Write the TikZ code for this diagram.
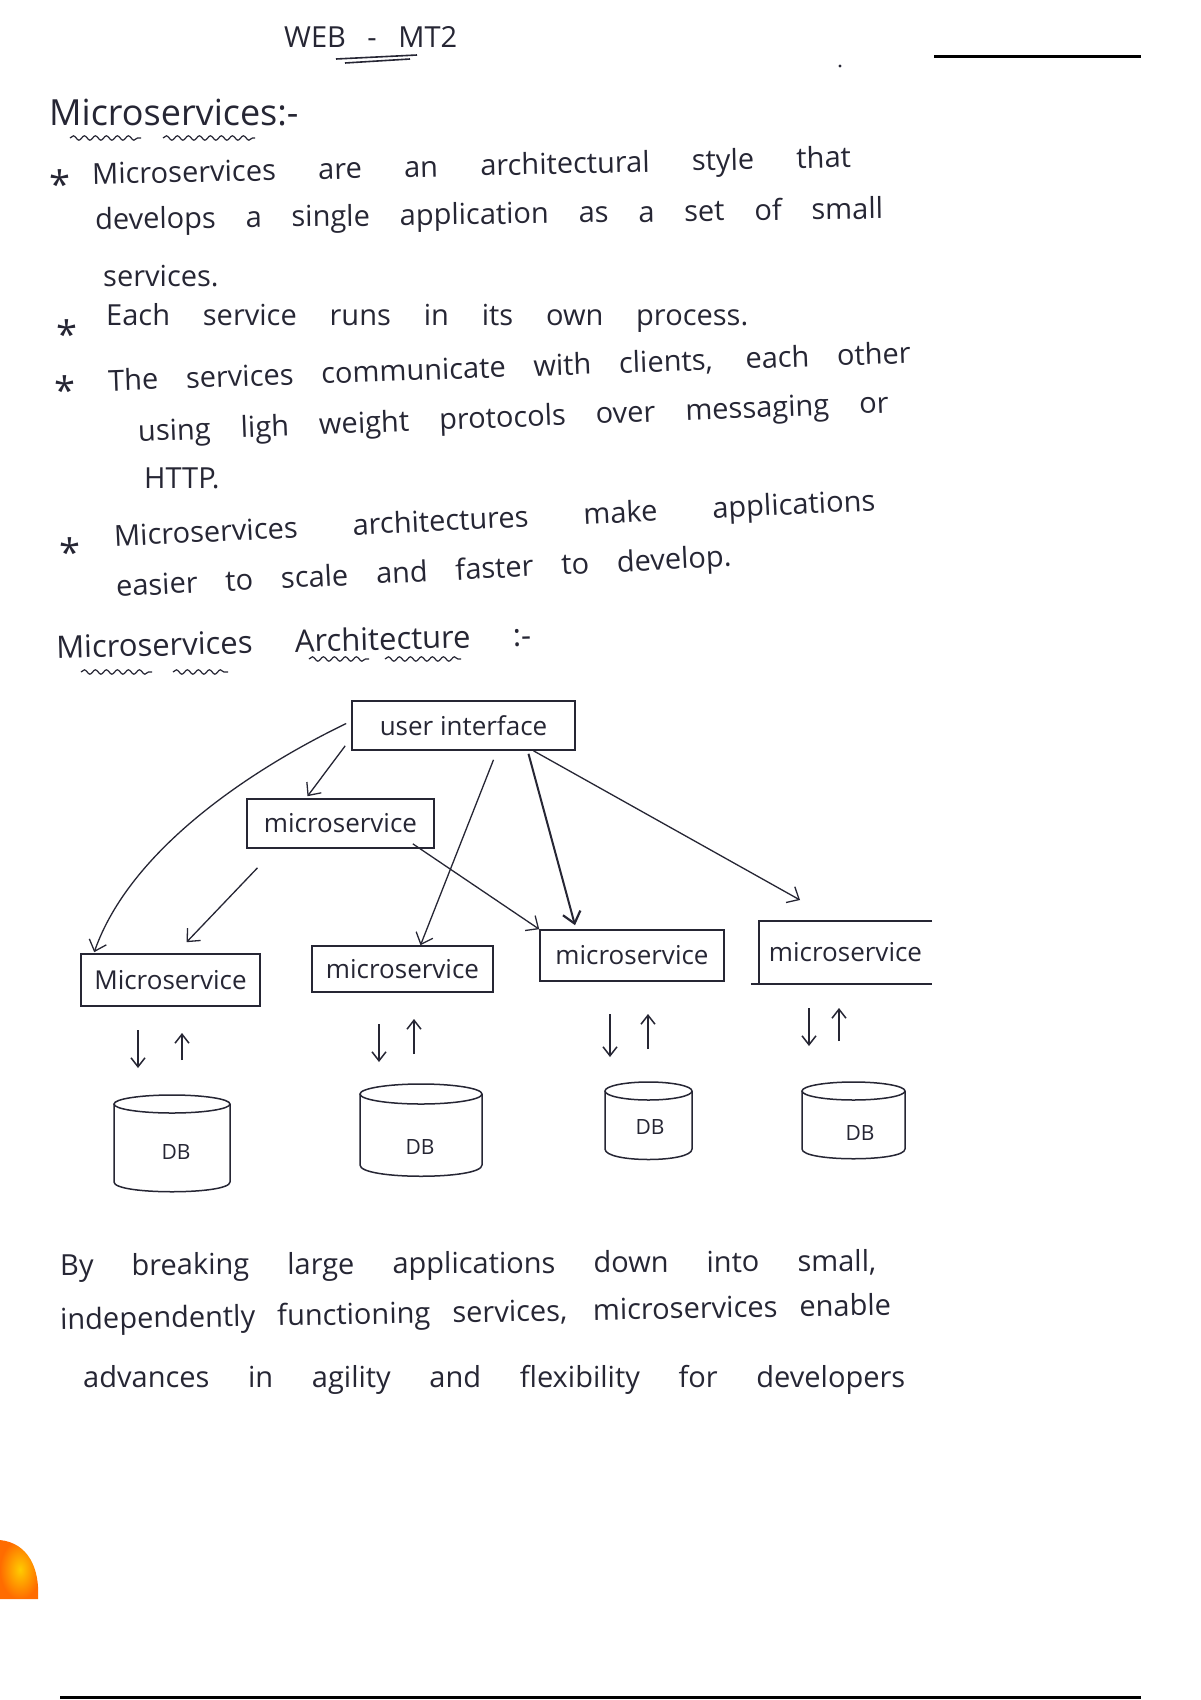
\documentclass[tikz,border=0pt]{standalone}
\usepackage{fontspec}
\setmainfont{Open Sans}
\usetikzlibrary{arrows.meta,decorations.pathmorphing,calc}
\definecolor{ink}{RGB}{38,38,52}
\newcommand{\hwline}[2]{\makebox[#1][s]{#2}}
\begin{document}
\begin{tikzpicture}[x=1pt,y=-1pt,
  txt/.style={anchor=west, inner sep=0pt, text=ink, font=\fontsize{29}{34}\selectfont},
  head/.style={anchor=west, inner sep=0pt, text=ink, font=\fontsize{36}{40}\selectfont},
  star/.style={inner sep=0pt, text=ink, font=\fontsize{38}{40}\selectfont},
  box/.style={draw=ink, line width=1.6pt, rectangle, inner sep=0pt, text=ink, font=\fontsize{26}{30}\selectfont},
  openbox/.style={rectangle, inner sep=0pt, text=ink, font=\fontsize{26}{30}\selectfont},
  boxline/.style={draw=ink, line width=1.6pt},
  conn/.style={draw=ink, line width=1.3pt, -{Straight Barb[length=10pt,width=18pt,line width=1.3pt]}},
  thickconn/.style={draw=ink, line width=2pt, -{Straight Barb[length=11pt,width=18pt,line width=2.2pt]}},
  wavy/.style={draw=ink, line width=1.2pt, decorate, decoration={snake, segment length=11pt, amplitude=2.2pt}},
  dbline/.style={draw=ink, line width=1.5pt},
  dblabel/.style={inner sep=0pt, text=ink, font=\fontsize{21}{25}\selectfont},
  updown/.style={draw=ink, line width=1.5pt, -{Straight Barb[length=9pt,width=14pt,line width=1.5pt]}},
  rule/.style={draw=black, line width=3pt},
]
\fill[white] (0,0) rectangle (1200,1700);
\useasboundingbox (0,0) rectangle (1200,1700);

% title
\node[anchor=west, inner sep=0pt, text=ink, font=\fontsize{29}{33}\selectfont] (title) at (284,37) {\hwline{173pt}{WEB - MT2}};
\draw[draw=ink, line width=1.6pt] (336,59) -- (417,55);
\draw[draw=ink, line width=1.6pt] (345,63) -- (410,59);
\draw[rule] (934,56) -- (1141,56);
\fill[ink] (840,66) circle (1.6pt);

% heading 1
\node[head] (h1) at (49,113) {Microservices:-};
\draw[wavy] (70,138) -- (141,138);
\draw[wavy] (163,138) -- (255,138);

% bullets
\node[star] (s1) at (60,184) {*};
\node[txt, rotate=1.3] (l1) at (92,177) {\hwline{759pt}{Microservices are an architectural style that}};
\node[txt, rotate=0.8] (l2) at (95,222) {\hwline{788pt}{develops a single application as a set of small}};
\node[txt] (l3) at (103,276) {services.};
\node[star] (s2) at (67,334) {*};
\node[txt] (l4) at (106,318) {\hwline{642pt}{Each service runs in its own process.}};
\node[star] (s3) at (65,390) {*};
\node[txt, rotate=2] (l5) at (108,382) {\hwline{803pt}{The services communicate with clients, each other}};
\node[txt, rotate=2.2] (l6) at (138,434) {\hwline{751pt}{using ligh weight protocols over messaging or}};
\node[txt] (l7) at (144,478) {HTTP.};
\node[star] (s4) at (70,552) {*};
\node[txt, rotate=2.7] (l8) at (114,539) {\hwline{762pt}{Microservices architectures make applications}};
\node[txt, rotate=2.8] (l9) at (116,589) {\hwline{616pt}{easier to scale and faster to develop.}};

% heading 2
\node[txt, rotate=1.5, font=\fontsize{31}{36}\selectfont] (h2) at (56,647) {\hwline{475pt}{Microservices Architecture :-}};
\draw[wavy] (81,672) -- (152,672);
\draw[wavy] (173,672) -- (228,672);
\draw[wavy] (309,659) -- (369,659);
\draw[wavy] (385,659) -- (461,659);

% diagram boxes
\node[box, minimum width=223pt, minimum height=49pt] (ui) at (463.5,725.5) {user interface};
\node[box, minimum width=187pt, minimum height=49pt] (mid) at (340.5,823.5) {microservice};
\node[box, minimum width=179pt, minimum height=52pt] (b1) at (170.5,980) {Microservice};
\node[box, minimum width=181pt, minimum height=46pt] (b2) at (402.5,969) {microservice};
\node[box, minimum width=184pt, minimum height=51pt] (b3) at (632,955.5) {microservice};
\node[openbox, minimum width=173pt, minimum height=63pt] (b4) at (845.5,952.5) {microservice};
\draw[boxline] (b4.north east) -- (b4.north west) -- (b4.south west);
\draw[boxline] ([xshift=-8pt]b4.south west) -- (b4.south east);

% connectors
\coordinate (c4) at (800,900);
\draw[conn] ([xshift=-5pt,yshift=2pt]ui.west) .. controls (250,770) and (130,850) .. ([xshift=14pt,yshift=1pt]b1.north west);
\draw[conn] ([xshift=-6pt,yshift=5pt]ui.south west) -- ([xshift=-33pt,yshift=2pt]mid.north);
\draw[conn] ([xshift=-83pt,yshift=-19pt]mid.south) -- ([xshift=16pt,yshift=11pt]b1.north);
\draw[conn] ([xshift=-22pt,yshift=5pt]mid.south east) -- (b3.north west);
\draw[conn] ([xshift=30pt,yshift=-9pt]ui.south) -- ([xshift=18pt]b2.north);
\draw[thickconn] ([xshift=65pt,yshift=-3pt]ui.south) -- ([xshift=-57pt,yshift=4pt]b3.north);
\draw[conn] ([xshift=70pt]ui.south) -- (c4);

% up/down arrows
\coordinate (p1a) at (138,1030); \coordinate (p1b) at (138,1068);
\coordinate (p1c) at (182,1060); \coordinate (p1d) at (182,1033);
\coordinate (p2a) at (379,1024); \coordinate (p2b) at (379,1062);
\coordinate (p2c) at (414,1054); \coordinate (p2d) at (414,1019);
\coordinate (p3a) at (610,1014); \coordinate (p3b) at (610,1057);
\coordinate (p3c) at (648,1049); \coordinate (p3d) at (648,1014);
\coordinate (p4a) at (809,1008); \coordinate (p4b) at (809,1046);
\coordinate (p4c) at (839,1041); \coordinate (p4d) at (839,1008);
\draw[updown] (p1a) -- (p1b); \draw[updown] (p1c) -- (p1d);
\draw[updown] (p2a) -- (p2b); \draw[updown] (p2c) -- (p2d);
\draw[updown] (p3a) -- (p3b); \draw[updown] (p3c) -- (p3d);
\draw[updown] (p4a) -- (p4b); \draw[updown] (p4c) -- (p4d);

% DB cylinders
\draw[dbline] (172,1104) ellipse [x radius=58, y radius=9];
\draw[dbline] (114,1104) -- (114,1182) .. controls (114,1195) and (230,1195) .. (230,1182) -- (230,1104);
\node[dblabel] (db1) at (176,1152) {DB};
\draw[dbline] (421,1094) ellipse [x radius=61, y radius=10];
\draw[dbline] (360,1094) -- (360,1165) .. controls (360,1180) and (482,1180) .. (482,1165) -- (482,1094);
\node[dblabel] (db2) at (420,1147) {DB};
\draw[dbline] (648.5,1091) ellipse [x radius=43.5, y radius=9];
\draw[dbline] (605,1091) -- (605,1149) .. controls (605,1163) and (692,1163) .. (692,1149) -- (692,1091);
\node[dblabel] (db3) at (650,1127) {DB};
\draw[dbline] (853.5,1091) ellipse [x radius=51.5, y radius=9];
\draw[dbline] (802,1091) -- (802,1149) .. controls (802,1162) and (905,1162) .. (905,1149) -- (905,1091);
\node[dblabel] (db4) at (860,1133) {DB};

% bottom paragraph
\node[txt, rotate=0.3] (p1) at (60,1268) {\hwline{816pt}{By breaking large applications down into small,}};
\node[txt, rotate=1] (p2) at (60,1322) {\hwline{831pt}{independently functioning services, microservices enable}};
\node[txt] (p3) at (83,1380) {\hwline{822pt}{advances in agility and flexibility for developers}};

% orange blob
\shade[inner color=yellow!60!orange, outer color=orange!85!red] (0,1540) .. controls (28,1543) and (40,1568) .. (38,1599) -- (0,1599) -- cycle;

% bottom rule
\draw[rule] (60,1697) -- (1141,1697);
\end{tikzpicture}
\end{document}
